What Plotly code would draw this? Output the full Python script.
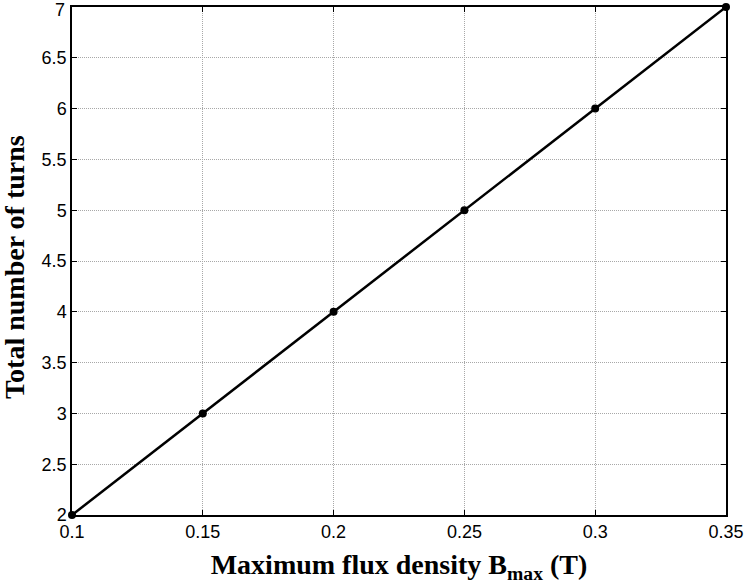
import plotly.graph_objects as go

# Maximum flux density (T) and resulting total number of turns
b_max = [0.10, 0.15, 0.20, 0.25, 0.30, 0.35]
turns = [2, 3, 4, 5, 6, 7]

x_ticks = [0.1, 0.15, 0.2, 0.25, 0.3, 0.35]
x_tick_text = ["0.1", "0.15", "0.2", "0.25", "0.3", "0.35"]
y_ticks = [2, 2.5, 3, 3.5, 4, 4.5, 5, 5.5, 6, 6.5, 7]
y_tick_text = ["2", "2.5", "3", "3.5", "4", "4.5", "5", "5.5", "6", "6.5", "7"]

x_title = "<b>Maximum flux density B<sub>max</sub> (T)</b>"
y_title = "<b>Total number of turns</b>"

tick_font = dict(family="Liberation Sans", size=18, color="black")
title_font = dict(family="Liberation Serif", size=28, color="black")

fig = go.Figure(
    go.Scatter(
        x=b_max, y=turns, mode="lines+markers",
        line=dict(color="black", width=2.5),
        marker=dict(color="black", size=8),
        showlegend=False,
        cliponaxis=False,
    )
)

axis_common = dict(
    showline=True, linecolor="black", linewidth=1.5, mirror="ticks",
    ticks="inside", ticklen=5, tickcolor="black",
    showgrid=True, gridcolor="#a8a8a8", griddash="1px,1px", gridwidth=1,
    zeroline=False, ticklabeloverflow="allow", automargin=False,
    tickfont=tick_font,
)

fig.update_xaxes(
    range=[0.1, 0.35], tickvals=x_ticks, ticktext=x_tick_text,
    title=dict(text=x_title, standoff=13, font=title_font),
    **axis_common,
)

# the top label sits just under its tick so it stays inside the page
y_labels_axis = [t if v != y_ticks[-1] else "" for v, t in zip(y_ticks, y_tick_text)]
fig.update_yaxes(
    range=[2, 7], tickvals=y_ticks, ticktext=y_labels_axis,
    **axis_common,
)
fig.add_annotation(
    xref="paper", yref="y", x=0, y=y_ticks[-1],
    text=y_tick_text[-1], showarrow=False,
    xanchor="right", yanchor="middle", xshift=-5, yshift=-3,
    font=tick_font,
)
fig.add_annotation(
    xref="paper", yref="paper", x=0, y=0.5,
    text=y_title, textangle=-90, showarrow=False,
    xanchor="center", yanchor="middle", xshift=-58, yshift=-6,
    font=title_font,
)

fig.update_layout(
    width=746, height=587,
    margin=dict(l=72, r=20, t=7, b=72),
    plot_bgcolor="white", paper_bgcolor="white",
)

fig.write_html("out.html")
